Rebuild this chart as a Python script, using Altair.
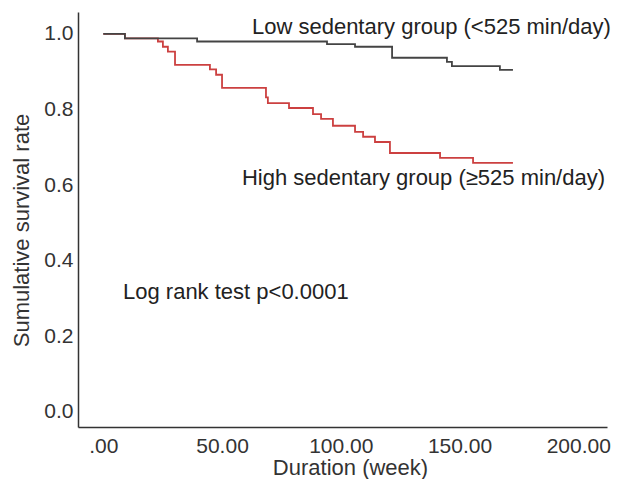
import altair as alt
import pandas as pd

# Kaplan-Meier step data
low_weeks = [0, 9.1, 39.5, 94.2, 106.0, 121.6, 144.7, 146.8, 167.0, 172.5]
low_surv = [1.0, 0.988, 0.980, 0.973, 0.966, 0.937, 0.926, 0.915, 0.905, 0.905]

high_weeks = [0, 9.1, 23.0, 25.1, 27.2, 30.2, 44.9, 47.5, 50.0, 68.5, 69.3, 78.2,
              88.3, 91.7, 96.7, 106.0, 109.4, 114.4, 120.7, 141.8, 155.7, 172.5]
high_surv = [1.0, 0.988, 0.980, 0.966, 0.953, 0.918, 0.906, 0.892, 0.857, 0.832, 0.817, 0.804,
             0.788, 0.775, 0.757, 0.741, 0.728, 0.714, 0.685, 0.672, 0.659, 0.659]

x_ticks = [0, 50, 100, 150, 200]
y_ticks = [0.0, 0.2, 0.4, 0.6, 0.8, 1.0]

ann_text = ["Low sedentary group (<525 min/day)",
            "High sedentary group (\u2265525 min/day)",
            "Log rank test p<0.0001"]
ann_week = [62.6, 58.4, 8.3]
ann_surv = [1.0185, 0.619, 0.317]

low = pd.DataFrame({"week": low_weeks, "surv": low_surv, "group": "low"})
high = pd.DataFrame({"week": high_weeks, "surv": high_surv, "group": "high"})
ann = pd.DataFrame({"text": ann_text, "week": ann_week, "surv": ann_surv})

FONT = "Liberation Sans"

xscale = alt.Scale(domain=[-10.65, 212.1], nice=False, zero=False)
yscale = alt.Scale(domain=[-0.040, 1.058], nice=False, zero=False)

xaxis = alt.Axis(values=x_ticks, title="Duration (week)",
                 labelExpr="datum.value == 0 ? '.00' : format(datum.value, '.2f')",
                 labelPadding=8, titleX=272, titleY=40, titleBaseline="middle")
yaxis = alt.Axis(values=y_ticks, title="Sumulative survival rate", format=".1f",
                 labelPadding=5, titlePadding=10, titleY=218)

def curve(df, color):
    return alt.Chart(df).mark_line(interpolate="step-after", color=color, strokeWidth=1.8).encode(
        x=alt.X("week:Q", scale=xscale, axis=xaxis),
        y=alt.Y("surv:Q", scale=yscale, axis=yaxis),
    )

texts = alt.Chart(ann).mark_text(align="left", baseline="middle", font=FONT,
                                 fontSize=22, color="#222").encode(
    x=alt.X("week:Q", scale=xscale),
    y=alt.Y("surv:Q", scale=yscale),
    text="text:N",
)

chart = alt.layer(curve(high, "#cc4040"), curve(low, "#444444"), texts).properties(
    width=529, height=415,
    autosize=alt.AutoSizeParams(type="none"),
    padding={"left": 70, "top": 4, "right": 6, "bottom": 56},
).configure_view(stroke=None).configure_axis(
    grid=False, ticks=False, tickSize=0,
    domainColor="#333", domainWidth=1.5,
    labelFont=FONT, labelFontSize=21, labelColor="#333",
    titleFont=FONT, titleFontSize=22, titleColor="#333", titleFontWeight="normal",
)

chart.save("out.html", embed_options={"renderer": "svg", "actions": False})
